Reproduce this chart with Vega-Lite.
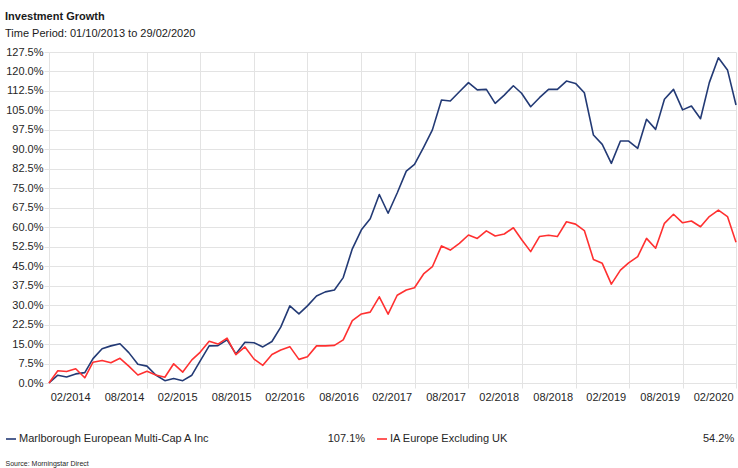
{
  "$schema": "https://vega.github.io/schema/vega-lite/v6.json",
  "width": 687,
  "height": 331,
  "autosize": {"type": "none"},
  "padding": {"left": 49, "top": 52, "right": 2, "bottom": 85},
  "background": "white",
  "config": {"font": "Liberation Sans", "view": {"stroke": null}},
  "title": {
    "text": "Investment Growth",
    "subtitle": "Time Period: 01/10/2013 to 29/02/2020",
    "anchor": "start",
    "frame": "group",
    "dx": -44,
    "offset": 7,
    "fontSize": 11,
    "fontWeight": "bold",
    "color": "#1a1a1a",
    "subtitleFontSize": 11,
    "subtitleColor": "#1a1a1a",
    "subtitlePadding": 6
  },
  "data": {"values": [
    {"date": "2013-10-01", "Marlborough European Multi-Cap A Inc": 0, "IA Europe Excluding UK": 0},
    {"date": "2013-10-31", "Marlborough European Multi-Cap A Inc": 3.0, "IA Europe Excluding UK": 4.7},
    {"date": "2013-11-30", "Marlborough European Multi-Cap A Inc": 2.3, "IA Europe Excluding UK": 4.4},
    {"date": "2013-12-31", "Marlborough European Multi-Cap A Inc": 3.5, "IA Europe Excluding UK": 5.5},
    {"date": "2014-01-31", "Marlborough European Multi-Cap A Inc": 4.0, "IA Europe Excluding UK": 2.0},
    {"date": "2014-02-28", "Marlborough European Multi-Cap A Inc": 9.4, "IA Europe Excluding UK": 8.0},
    {"date": "2014-03-31", "Marlborough European Multi-Cap A Inc": 13.2, "IA Europe Excluding UK": 8.7},
    {"date": "2014-04-30", "Marlborough European Multi-Cap A Inc": 14.3, "IA Europe Excluding UK": 7.8},
    {"date": "2014-05-31", "Marlborough European Multi-Cap A Inc": 15.1, "IA Europe Excluding UK": 9.5},
    {"date": "2014-06-30", "Marlborough European Multi-Cap A Inc": 11.7, "IA Europe Excluding UK": 6.5},
    {"date": "2014-07-31", "Marlborough European Multi-Cap A Inc": 7.2, "IA Europe Excluding UK": 3.1},
    {"date": "2014-08-31", "Marlborough European Multi-Cap A Inc": 6.5, "IA Europe Excluding UK": 4.5},
    {"date": "2014-09-30", "Marlborough European Multi-Cap A Inc": 3.1, "IA Europe Excluding UK": 3.1},
    {"date": "2014-10-31", "Marlborough European Multi-Cap A Inc": 0.9, "IA Europe Excluding UK": 2.2},
    {"date": "2014-11-30", "Marlborough European Multi-Cap A Inc": 1.7, "IA Europe Excluding UK": 7.4},
    {"date": "2014-12-31", "Marlborough European Multi-Cap A Inc": 0.9, "IA Europe Excluding UK": 4.2},
    {"date": "2015-01-31", "Marlborough European Multi-Cap A Inc": 3.0, "IA Europe Excluding UK": 8.9},
    {"date": "2015-02-28", "Marlborough European Multi-Cap A Inc": 8.4, "IA Europe Excluding UK": 11.8},
    {"date": "2015-03-31", "Marlborough European Multi-Cap A Inc": 14.3, "IA Europe Excluding UK": 16.1},
    {"date": "2015-04-30", "Marlborough European Multi-Cap A Inc": 14.4, "IA Europe Excluding UK": 15.0},
    {"date": "2015-05-31", "Marlborough European Multi-Cap A Inc": 16.6, "IA Europe Excluding UK": 17.3},
    {"date": "2015-06-30", "Marlborough European Multi-Cap A Inc": 11.2, "IA Europe Excluding UK": 10.9},
    {"date": "2015-07-31", "Marlborough European Multi-Cap A Inc": 15.7, "IA Europe Excluding UK": 13.9},
    {"date": "2015-08-31", "Marlborough European Multi-Cap A Inc": 15.5, "IA Europe Excluding UK": 9.2},
    {"date": "2015-09-30", "Marlborough European Multi-Cap A Inc": 13.9, "IA Europe Excluding UK": 6.8},
    {"date": "2015-10-31", "Marlborough European Multi-Cap A Inc": 16.0, "IA Europe Excluding UK": 11.0},
    {"date": "2015-11-30", "Marlborough European Multi-Cap A Inc": 21.5, "IA Europe Excluding UK": 12.7},
    {"date": "2015-12-31", "Marlborough European Multi-Cap A Inc": 29.7, "IA Europe Excluding UK": 14.0},
    {"date": "2016-01-31", "Marlborough European Multi-Cap A Inc": 26.6, "IA Europe Excluding UK": 9.1},
    {"date": "2016-02-29", "Marlborough European Multi-Cap A Inc": 29.7, "IA Europe Excluding UK": 10.1},
    {"date": "2016-03-31", "Marlborough European Multi-Cap A Inc": 33.5, "IA Europe Excluding UK": 14.3},
    {"date": "2016-04-30", "Marlborough European Multi-Cap A Inc": 35.1, "IA Europe Excluding UK": 14.3},
    {"date": "2016-05-31", "Marlborough European Multi-Cap A Inc": 35.8, "IA Europe Excluding UK": 14.5},
    {"date": "2016-06-30", "Marlborough European Multi-Cap A Inc": 40.6, "IA Europe Excluding UK": 16.6},
    {"date": "2016-07-31", "Marlborough European Multi-Cap A Inc": 51.7, "IA Europe Excluding UK": 24.0},
    {"date": "2016-08-31", "Marlborough European Multi-Cap A Inc": 59.0, "IA Europe Excluding UK": 26.6},
    {"date": "2016-09-30", "Marlborough European Multi-Cap A Inc": 63.3, "IA Europe Excluding UK": 27.3},
    {"date": "2016-10-31", "Marlborough European Multi-Cap A Inc": 72.6, "IA Europe Excluding UK": 33.2},
    {"date": "2016-11-30", "Marlborough European Multi-Cap A Inc": 65.4, "IA Europe Excluding UK": 26.5},
    {"date": "2016-12-31", "Marlborough European Multi-Cap A Inc": 73.2, "IA Europe Excluding UK": 33.8},
    {"date": "2017-01-31", "Marlborough European Multi-Cap A Inc": 81.6, "IA Europe Excluding UK": 35.8},
    {"date": "2017-02-28", "Marlborough European Multi-Cap A Inc": 84.2, "IA Europe Excluding UK": 36.7},
    {"date": "2017-03-31", "Marlborough European Multi-Cap A Inc": 90.8, "IA Europe Excluding UK": 42.0},
    {"date": "2017-04-30", "Marlborough European Multi-Cap A Inc": 97.5, "IA Europe Excluding UK": 44.8},
    {"date": "2017-05-31", "Marlborough European Multi-Cap A Inc": 109.0, "IA Europe Excluding UK": 52.8},
    {"date": "2017-06-30", "Marlborough European Multi-Cap A Inc": 108.6, "IA Europe Excluding UK": 51.2},
    {"date": "2017-07-31", "Marlborough European Multi-Cap A Inc": 112.2, "IA Europe Excluding UK": 53.8},
    {"date": "2017-08-31", "Marlborough European Multi-Cap A Inc": 115.7, "IA Europe Excluding UK": 57.0},
    {"date": "2017-09-30", "Marlborough European Multi-Cap A Inc": 112.9, "IA Europe Excluding UK": 55.7},
    {"date": "2017-10-31", "Marlborough European Multi-Cap A Inc": 113.1, "IA Europe Excluding UK": 58.6},
    {"date": "2017-11-30", "Marlborough European Multi-Cap A Inc": 107.7, "IA Europe Excluding UK": 56.6},
    {"date": "2017-12-31", "Marlborough European Multi-Cap A Inc": 110.9, "IA Europe Excluding UK": 57.4},
    {"date": "2018-01-31", "Marlborough European Multi-Cap A Inc": 114.5, "IA Europe Excluding UK": 59.8},
    {"date": "2018-02-28", "Marlborough European Multi-Cap A Inc": 111.6, "IA Europe Excluding UK": 55.3},
    {"date": "2018-03-31", "Marlborough European Multi-Cap A Inc": 106.4, "IA Europe Excluding UK": 50.6},
    {"date": "2018-04-30", "Marlborough European Multi-Cap A Inc": 109.9, "IA Europe Excluding UK": 56.4},
    {"date": "2018-05-31", "Marlborough European Multi-Cap A Inc": 113.1, "IA Europe Excluding UK": 56.9},
    {"date": "2018-06-30", "Marlborough European Multi-Cap A Inc": 113.1, "IA Europe Excluding UK": 56.4},
    {"date": "2018-07-31", "Marlborough European Multi-Cap A Inc": 116.3, "IA Europe Excluding UK": 62.1},
    {"date": "2018-08-31", "Marlborough European Multi-Cap A Inc": 115.4, "IA Europe Excluding UK": 61.2},
    {"date": "2018-09-30", "Marlborough European Multi-Cap A Inc": 111.8, "IA Europe Excluding UK": 58.7},
    {"date": "2018-10-31", "Marlborough European Multi-Cap A Inc": 95.5, "IA Europe Excluding UK": 47.6},
    {"date": "2018-11-30", "Marlborough European Multi-Cap A Inc": 91.9, "IA Europe Excluding UK": 46.1},
    {"date": "2018-12-31", "Marlborough European Multi-Cap A Inc": 84.6, "IA Europe Excluding UK": 38.1},
    {"date": "2019-01-31", "Marlborough European Multi-Cap A Inc": 93.2, "IA Europe Excluding UK": 43.5},
    {"date": "2019-02-28", "Marlborough European Multi-Cap A Inc": 93.2, "IA Europe Excluding UK": 46.3},
    {"date": "2019-03-31", "Marlborough European Multi-Cap A Inc": 90.4, "IA Europe Excluding UK": 48.7},
    {"date": "2019-04-30", "Marlborough European Multi-Cap A Inc": 101.6, "IA Europe Excluding UK": 55.7},
    {"date": "2019-05-31", "Marlborough European Multi-Cap A Inc": 97.7, "IA Europe Excluding UK": 51.9},
    {"date": "2019-06-30", "Marlborough European Multi-Cap A Inc": 109.3, "IA Europe Excluding UK": 61.5},
    {"date": "2019-07-31", "Marlborough European Multi-Cap A Inc": 113.1, "IA Europe Excluding UK": 65.0},
    {"date": "2019-08-31", "Marlborough European Multi-Cap A Inc": 105.2, "IA Europe Excluding UK": 61.7},
    {"date": "2019-09-30", "Marlborough European Multi-Cap A Inc": 106.7, "IA Europe Excluding UK": 62.4},
    {"date": "2019-10-31", "Marlborough European Multi-Cap A Inc": 101.8, "IA Europe Excluding UK": 60.2},
    {"date": "2019-11-30", "Marlborough European Multi-Cap A Inc": 115.7, "IA Europe Excluding UK": 64.1},
    {"date": "2019-12-31", "Marlborough European Multi-Cap A Inc": 125.3, "IA Europe Excluding UK": 66.6},
    {"date": "2020-01-31", "Marlborough European Multi-Cap A Inc": 120.6, "IA Europe Excluding UK": 64.1},
    {"date": "2020-02-29", "Marlborough European Multi-Cap A Inc": 107.1, "IA Europe Excluding UK": 54.2}
  ]},
  "transform": [
    {"fold": ["Marlborough European Multi-Cap A Inc", "IA Europe Excluding UK"], "as": ["series", "value"]}
  ],
  "mark": {"type": "line", "strokeWidth": 1.6, "strokeJoin": "round"},
  "encoding": {
    "x": {
      "field": "date",
      "type": "temporal",
      "scale": {
        "type": "utc",
        "domain": [
          {"year": 2013, "month": 10, "date": 1, "utc": true},
          {"year": 2020, "month": 2, "date": 29, "utc": true}
        ]
      },
      "axis": {
        "values": [
          {"year": 2014, "month": 2, "date": 28, "utc": true},
          {"year": 2014, "month": 8, "date": 31, "utc": true},
          {"year": 2015, "month": 2, "date": 28, "utc": true},
          {"year": 2015, "month": 8, "date": 31, "utc": true},
          {"year": 2016, "month": 2, "date": 29, "utc": true},
          {"year": 2016, "month": 8, "date": 31, "utc": true},
          {"year": 2017, "month": 2, "date": 28, "utc": true},
          {"year": 2017, "month": 8, "date": 31, "utc": true},
          {"year": 2018, "month": 2, "date": 28, "utc": true},
          {"year": 2018, "month": 8, "date": 31, "utc": true},
          {"year": 2019, "month": 2, "date": 28, "utc": true},
          {"year": 2019, "month": 8, "date": 31, "utc": true},
          {"year": 2020, "month": 2, "date": 29, "utc": true}
        ],
        "labelExpr": "utcFormat(datum.value, '%m/%Y')",
        "labelAlign": "right",
        "labelOffset": -3,
        "labelPadding": 3,
        "labelOverlap": false,
        "labelBound": false,
        "labelFontSize": 11,
        "labelColor": "#262626",
        "tickSize": 5,
        "tickColor": "#e3e3e3",
        "grid": true,
        "gridColor": "#e3e3e3",
        "domainColor": "#e3e3e3",
        "title": "Source: Morningstar Direct",
        "titleFontSize": 7,
        "titleFontWeight": "normal",
        "titleColor": "#262626",
        "titleAnchor": "start",
        "titleAlign": "left",
        "titleBaseline": "middle",
        "titleX": -44,
        "titleY": 80
      }
    },
    "y": {
      "field": "value",
      "type": "quantitative",
      "scale": {"domain": [0, 127.5], "nice": false, "zero": false},
      "axis": {
        "values": [0, 7.5, 15, 22.5, 30, 37.5, 45, 52.5, 60, 67.5, 75, 82.5, 90, 97.5, 105, 112.5, 120, 127.5],
        "labelExpr": "format(datum.value, '.1f') + '%'",
        "labelOverlap": false,
        "labelFontSize": 11,
        "labelColor": "#262626",
        "labelPadding": 1,
        "tickSize": 5,
        "tickColor": "#e3e3e3",
        "grid": true,
        "gridColor": "#e3e3e3",
        "domainColor": "#e3e3e3",
        "title": null
      }
    },
    "color": {
      "field": "series",
      "type": "nominal",
      "scale": {
        "domain": ["Marlborough European Multi-Cap A Inc", "IA Europe Excluding UK"],
        "range": ["#233a75", "#ff3030"]
      },
      "legend": {
        "orient": "none",
        "legendX": -44,
        "legendY": 381,
        "direction": "horizontal",
        "columns": 2,
        "title": null,
        "padding": 0,
        "symbolType": "stroke",
        "symbolSize": 100,
        "symbolStrokeWidth": 1.6,
        "labelFontSize": 11,
        "labelColor": "#262626",
        "labelLimit": 0,
        "labelOffset": 2,
        "columnPadding": 6,
        "labelExpr": "datum.label == 'IA Europe Excluding UK' ? datum.label + pad('', 64, '\u00a0') + '54.2%' : datum.label + pad('', 39, '\u00a0') + '107.1%'"
      }
    }
  }
}
